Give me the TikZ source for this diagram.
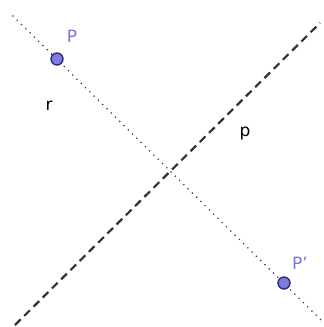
\documentclass[tikz,border=0pt]{standalone}
\usepackage{fontspec}
\setmainfont{DejaVu Sans}
\definecolor{ptfill}{RGB}{125,125,225}
\definecolor{ptdraw}{RGB}{40,40,110}
\definecolor{ptlabel}{RGB}{120,120,215}
\begin{document}
\begin{tikzpicture}[x=1pt,y=-1pt,
  pt/.style={circle,draw=ptdraw,fill=ptfill,line width=1.3pt,minimum size=12pt,inner sep=0pt},
  ptlab/.style={text=ptlabel,font=\fontsize{17}{17}\selectfont,inner sep=0pt},
  lab/.style={text=black,font=\fontsize{17}{17}\selectfont,inner sep=0pt},
  dotline/.style={line width=1.8pt,line cap=round,dash pattern=on 0pt off 6pt,color=black!75},
  dashline/.style={line width=2.2pt,dash pattern=on 8pt off 5pt,color=black!80}]
\useasboundingbox (0,0) rectangle (324,327);
\fill[white] (0,0) rectangle (324,327);
\coordinate (r1) at (13,16);
\coordinate (r2) at (322,321);
\coordinate (p1) at (15,325);
\coordinate (p2) at (320,23);
\draw[dotline] (r1) -- (r2);
\draw[dashline] (p1) -- (p2);
\node[pt] (P) at (57,59) {};
\node[pt] (Pp) at (284,283) {};
\node[ptlab] (lP) at (72,36) {P};
\node[ptlab] (lPp) at (300,263) {P'};
\node[lab] (lr) at (49,106) {r};
\node[lab] (lp) at (245,134) {p};
\end{tikzpicture}
\end{document}
